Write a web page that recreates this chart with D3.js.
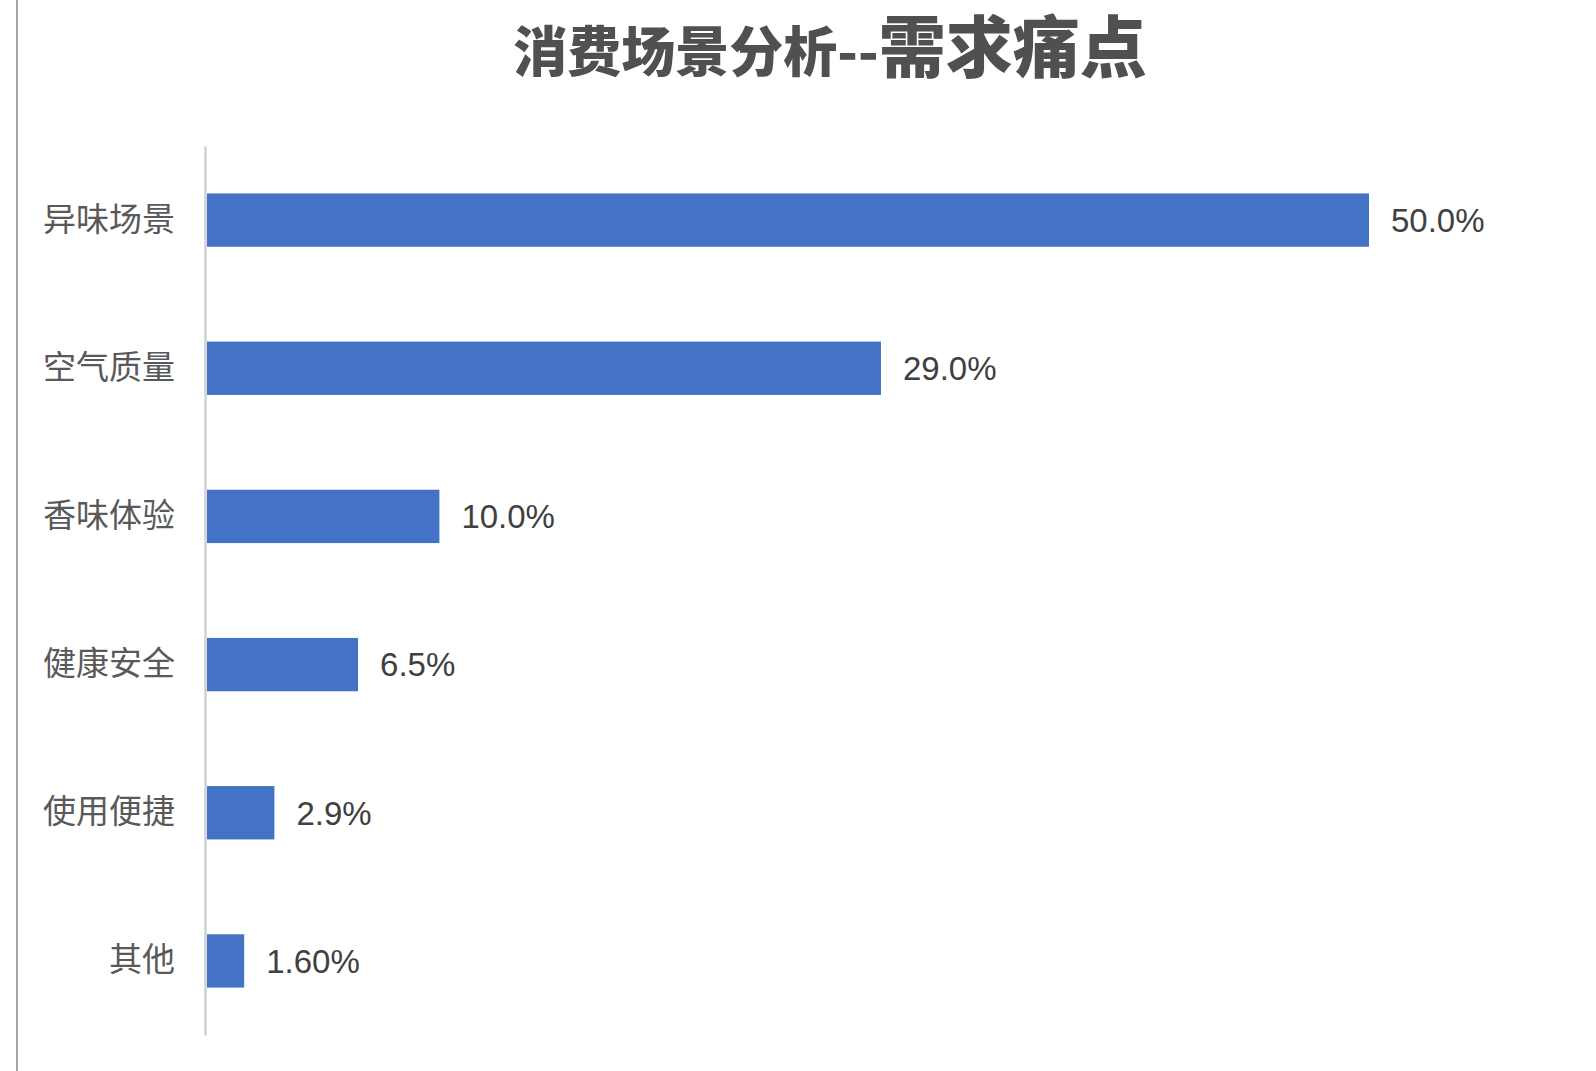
<!DOCTYPE html>
<html>
<head>
<meta charset="utf-8">
<script src="https://cdn.jsdelivr.net/npm/d3@7"></script>
<style>
  html, body { margin: 0; padding: 0; background: #fff; }
</style>
</head>
<body>
<div id="chart"></div>
<script>
var categories = ["异味场景", "空气质量", "香味体验", "健康安全", "使用便捷", "其他"];
var values = [50.0, 29.0, 10.0, 6.5, 2.9, 1.6];
var valueLabels = ["50.0%", "29.0%", "10.0%", "6.5%", "2.9%", "1.60%"];
var titleMain = "消费场景分析--";
var titleStrong = "需求痛点";

(function() {
    var W = 1596, H = 1071;

    var svg = d3.select("#chart").append("svg")
        .attr("width", W)
        .attr("height", H);

    // left frame line
    svg.append("line")
        .attr("x1", 17).attr("x2", 17)
        .attr("y1", 0).attr("y2", H)
        .attr("stroke", "#a6a6a6")
        .attr("stroke-width", 2);

    // title
    var title = svg.append("text")
        .attr("x", 830)
        .attr("y", 72)
        .attr("text-anchor", "middle")
        .attr("fill", "#505050")
        .attr("font-family", "'Noto Sans CJK SC', sans-serif")
        .attr("font-weight", 900);
    title.append("tspan").attr("font-size", 54).text(titleMain);
    title.append("tspan").attr("font-size", 67).text(titleStrong);

    var x = d3.scaleLinear()
        .domain([0, 50])
        .range([207, 1369]);

    var y = d3.scaleBand()
        .domain(categories)
        .range([146, 1035])
        .paddingInner(0.64)
        .paddingOuter(0.32);

    // category axis
    var yAxis = d3.axisLeft(y).tickSize(0).tickPadding(30);
    var gAxis = svg.append("g")
        .attr("transform", "translate(205,0)")
        .call(yAxis);
    gAxis.select(".domain")
        .attr("stroke", "#d0d0d0")
        .attr("stroke-width", 2.5);
    gAxis.selectAll("text")
        .attr("fill", "#595959")
        .attr("font-size", 33)
        .attr("font-family", "'Noto Sans CJK SC', sans-serif");

    // bars
    svg.selectAll("rect.bar")
        .data(values)
        .enter()
        .append("rect")
        .attr("class", "bar")
        .attr("x", x(0))
        .attr("y", function(d, i) { return y(categories[i]); })
        .attr("width", function(d) { return x(d) - x(0); })
        .attr("height", y.bandwidth())
        .attr("fill", "#4472C4");

    // value labels
    svg.selectAll("text.val")
        .data(values)
        .enter()
        .append("text")
        .attr("class", "val")
        .attr("x", function(d) { return x(d) + 22; })
        .attr("y", function(d, i) { return y(categories[i]) + y.bandwidth() / 2; })
        .attr("dy", "0.36em")
        .attr("fill", "#404040")
        .attr("font-size", 33)
        .attr("font-family", "'Liberation Sans', Arial, sans-serif")
        .text(function(d, i) { return valueLabels[i]; });
})();
</script>
</body>
</html>
